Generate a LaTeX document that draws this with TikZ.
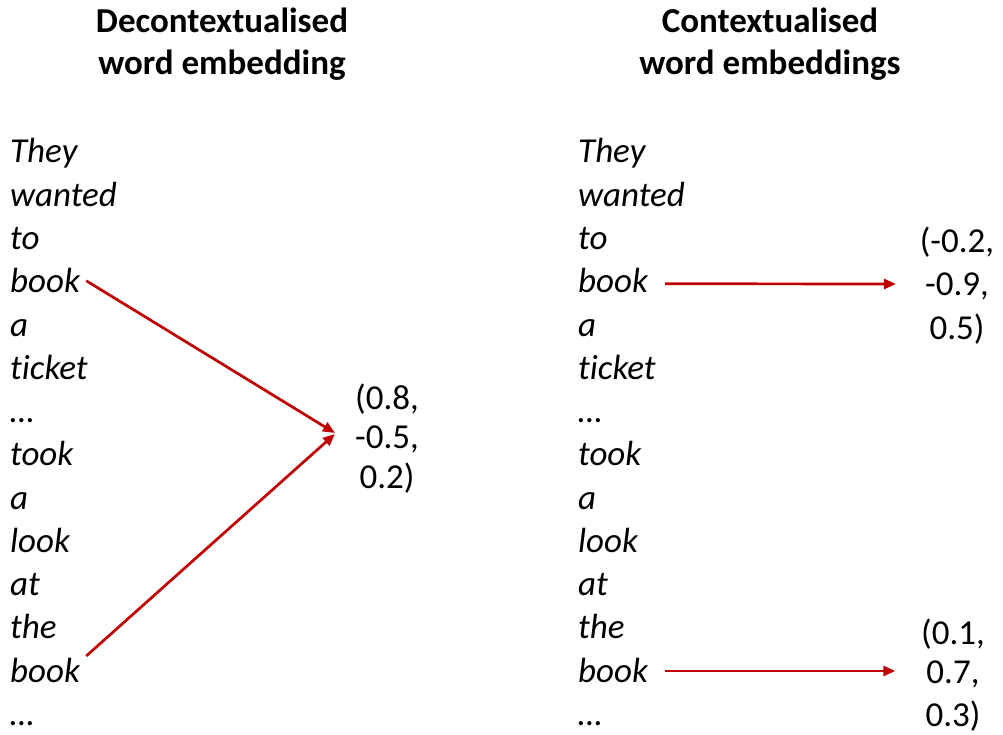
\documentclass[tikz,border=0pt]{standalone}
\usepackage{fontspec}
\setmainfont{Carlito}[Ligatures=NoCommon]
\usetikzlibrary{arrows.meta}
\definecolor{arr}{RGB}{192,0,0}
\begin{document}
\begin{tikzpicture}[x=1pt,y=-1pt,
  word/.style={anchor=base west, inner sep=0pt, font=\fontsize{35}{42}\selectfont\itshape},
  num/.style={anchor=base, inner sep=0pt, font=\fontsize{35}{42}\selectfont},
  title/.style={anchor=base, inner sep=0pt, font=\fontsize{35}{42}\selectfont\bfseries},
  conn/.style={draw=arr, line width=2.7pt, -{Triangle[length=12pt,width=10pt]}}]
\useasboundingbox (0,0) rectangle (1003,735);
% titles
\node[title] (t1a) at (222,33) {Decontextualised};
\node[title] (t1b) at (222,75) {word embedding};
\node[title] (t2a) at (770,33) {Contextualised};
\node[title] (t2b) at (770,75) {word embeddings};
% words
\foreach \w [count=\i from 0] in {They,wanted,to,book,a,ticket,…,took,a,look,at,the,book,…}{
  \node[word] (L\i) at (10,163+43.25*\i) {\w};
  \node[word] (R\i) at (578,163+43.25*\i) {\w};
}
% numbers left
\node[num] (na1) at (387,409) {(0.8,};
\node[num] (na2) at (387,448) {-0.5,};
\node[num] (na3) at (387,488) {0.2)};
% numbers right top
\node[num] (nb1) at (957,252) {(-0.2,};
\node[num] (nb2) at (957,295) {-0.9,};
\node[num] (nb3) at (957,339) {0.5)};
% numbers right bottom
\node[num] (nc1) at (953,644) {(0.1,};
\node[num] (nc2) at (953,683) {0.7,};
\node[num] (nc3) at (953,726) {0.3)};
% arrows
\draw[conn] ([shift={(6,-12)}]L3.base east) -- ([shift={(-20,-15)}]na2.base west);
\draw[conn] ([shift={(6,-26)}]L12.base east) -- ([shift={(-20,-14)}]na2.base west);
\draw[conn] ([shift={(17,-9)}]R3.base east) -- ([shift={(-29,-11)}]nb2.base west);
\draw[conn] ([shift={(17,-11)}]R12.base east) -- ([shift={(-31,-12)}]nc2.base west);
\end{tikzpicture}
\end{document}
